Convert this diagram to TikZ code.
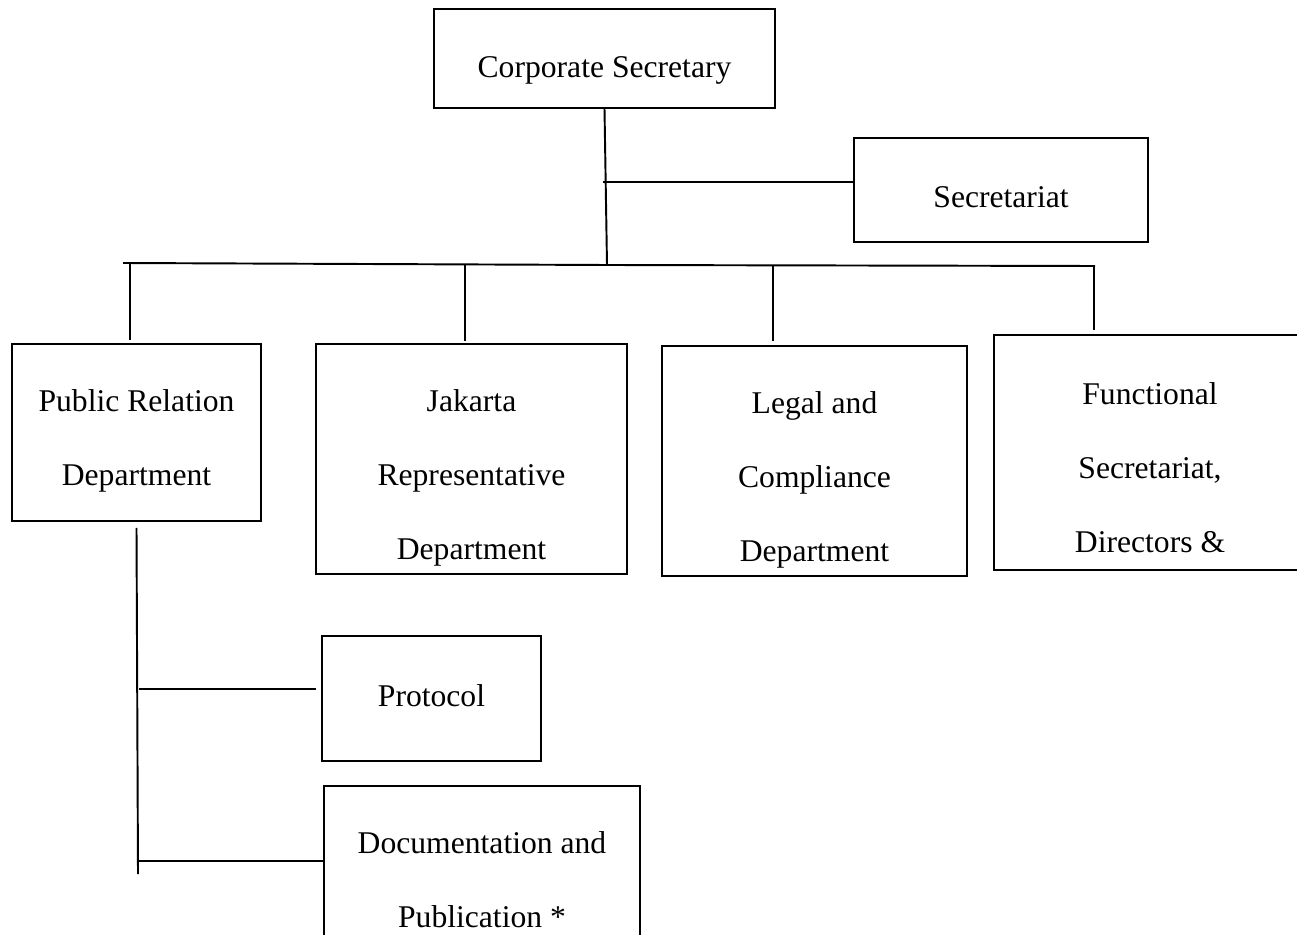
\documentclass[tikz,border=0pt]{standalone}
\usepackage{fontspec}
\setmainfont{Liberation Serif}
\usetikzlibrary{calc}

\tikzset{
  unitbox/.style 2 args={draw, line width=1.1pt, inner sep=0pt,
    minimum width=#1*0.02cm, minimum height=#2*0.02cm},
  unittext/.style={inner sep=0pt, align=center,
    font=\fontsize{18}{42}\selectfont},
  link/.style={line width=1.1pt}
}

\begin{document}
\begin{tikzpicture}[x=0.02cm, y=-0.02cm]
    % Page frame (boxes at the edges are cut off)
    \useasboundingbox (0,0) rectangle (1297,935);
    \clip (0,0) rectangle (1297,935);

    % Top level
    \node[unitbox={341}{99}] (corp) at (604.5,58.5) {};
    \node[unitbox={294}{104}] (secr) at (1001,190) {};

    % Departments
    \node[unitbox={249}{177}] (pr) at (136.5,432.5) {};
    \node[unitbox={311}{230}] (jkt) at (471.5,459) {};
    \node[unitbox={305}{230}] (legal) at (814.5,461) {};
    \node[unitbox={312}{235}] (func) at (1150,452.5) {};

    % Sections under Public Relation
    \node[unitbox={219}{125}] (proto) at (431.5,698.5) {};
    \node[unitbox={316}{187}] (docpub) at (482,879.5) {};

    % Box texts
    \node[unittext] (corp-t) at ($(corp.center)+(0,11.5)$) {Corporate Secretary};
    \node[unittext] (secr-t) at ($(secr.center)+(0,7)$) {Secretariat};
    \node[unittext] (pr-t) at ($(pr.center)+(0,8.5)$) {Public Relation\\Department};
    \node[unittext] (jkt-t) at ($(jkt.center)+(0,19)$) {Jakarta\\Representative\\Department};
    \node[unittext] (legal-t) at ($(legal.center)+(0,19)$) {Legal and\\Compliance\\Department};
    \node[unittext] (func-t) at ($(func.center)+(0,15)$) {Functional\\Secretariat,\\Directors \&};
    \node[unittext] (proto-t) at ($(proto.center)+(0,-2.5)$) {Protocol};
    \node[unittext] (docpub-t) at (docpub.center) {Documentation and\\Publication *};

    % Junction points
    \coordinate (sbr) at (603,182);   % branch to secretariat
    \coordinate (busL) at (123,263);
    \coordinate (busM) at (607,265);
    \coordinate (busR) at (1095,266);
    \coordinate (dA) at (130,263);
    \coordinate (dB) at (465,265);
    \coordinate (dC) at (773,266);
    \coordinate (dD) at (1094,266);
    \coordinate (prEnd) at (138,874);
    \coordinate (pb1) at (139,689);
    \coordinate (pb2) at (139,861);

    % Trunk and bus
    \draw[link] (corp.south) -- (busM);
    \draw[link] (sbr) -- (sbr -| secr.west);
    \draw[link] (busL) -- (busM) -- (busR);

    % Drops to the departments
    \draw[link] (dA) -- ($(dA |- pr.north)+(0,-3)$);
    \draw[link] (dB) -- ($(dB |- jkt.north)+(0,-2)$);
    \draw[link] (dC) -- ($(dC |- legal.north)+(0,-4)$);
    \draw[link] (dD) -- ($(dD |- func.north)+(0,-4)$);

    % Public Relation branches
    \draw[link] ($(pr.south)+(0,6)$) -- (prEnd);
    \draw[link] (pb1) -- ($(pb1 -| proto.west)+(-5,0)$);
    \draw[link] (pb2) -- (pb2 -| docpub.west);
\end{tikzpicture}
\end{document}
